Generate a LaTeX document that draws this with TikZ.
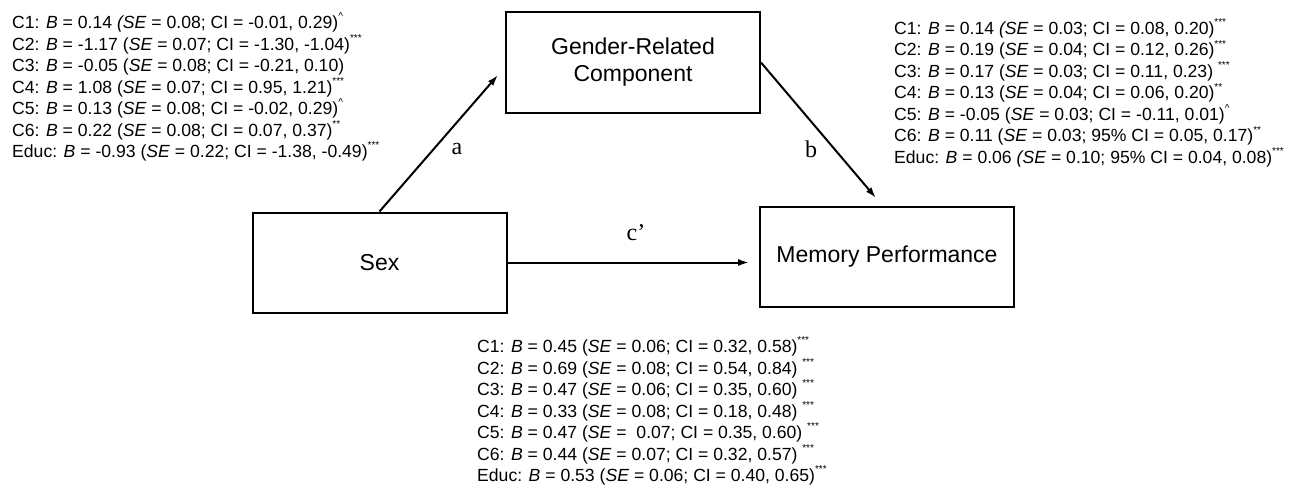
\documentclass[tikz,border=0pt]{standalone}
\usepackage{fontspec}
\setmainfont{Liberation Sans}
\newfontfamily\pathfont{Liberation Serif}
\usetikzlibrary{arrows.meta}

% coefficient notation
\newcommand{\coef}{\textit{B}}
\newcommand{\stderr}{\textit{SE}}
\newcommand{\sig}[1]{\raisebox{0.5em}{\fontsize{10}{10}\selectfont #1}}
\newcommand{\trend}{\sig{\textasciicircum}}

\tikzset{
  box/.style={draw, line width=2pt, minimum width=254, minimum height=100, inner sep=0pt,
    align=center, font=\fontsize{23}{27}\selectfont},
  arr/.style={line width=2pt, -{Latex[length=11pt, width=7pt]}},
  stat/.style={anchor=base west, inner sep=0pt, font=\fontsize{17.6}{21.5}\selectfont},
  pathlbl/.style={inner sep=0pt, font=\pathfont\fontsize{24}{24}\selectfont}
}

\begin{document}
\begin{tikzpicture}[x=1pt, y=-1pt]
\useasboundingbox (0,0) rectangle (1292,487);

% Boxes
\node[box] (gender) at (633,62.5) {Gender-Related\\Component};
\node[box] (sex) at (379.5,262.5) {Sex};
\node[box] (memory) at (887,257) {Memory Performance};

% Arrow ends
\coordinate (aend) at (498,75);
\coordinate (bend) at (876,198);
\coordinate (cend) at (749,262.5);

% Paths
\draw[arr] (sex.north) -- (aend);
\draw[arr] (gender.east) -- (bend);
\draw[arr] (sex.east) -- (cend);
\node[pathlbl] (alabel) at (457,149) {a};
\node[pathlbl] (blabel) at (811,149) {b};
\node[pathlbl] (clabel) at (636,233) {c’};

% Path a estimates
\foreach \txt [count=\i] in {
  {C1: \coef{} = 0.14 \textit{(SE} = 0.08; CI = -0.01, 0.29)\trend},
  {C2: \coef{} = -1.17 (\stderr{} = 0.07; CI = -1.30, -1.04)\sig{***}},
  {C3: \coef{} = -0.05 (\stderr{} = 0.08; CI = -0.21, 0.10)},
  {C4: \coef{} = 1.08 (\stderr{} = 0.07; CI = 0.95, 1.21)\sig{***}},
  {C5: \coef{} = 0.13 (\stderr{} = 0.08; CI = -0.02, 0.29)\trend},
  {C6: \coef{} = 0.22 (\stderr{} = 0.08; CI = 0.07, 0.37)\sig{**}},
  {Educ: \coef{} = -0.93 (\stderr{} = 0.22; CI = -1.38, -0.49)\sig{***}}}
  \node[stat] (lft\i) at (12,7.2+21.5*\i) {\txt};

% Path b estimates
\foreach \txt [count=\i] in {
  {C1: \coef{} = 0.14 \textit{(SE} = 0.03; CI = 0.08, 0.20)\sig{***}},
  {C2: \coef{} = 0.19 (\stderr{} = 0.04; CI = 0.12, 0.26)\sig{***}},
  {C3: \coef{} = 0.17 (\stderr{} = 0.03; CI = 0.11, 0.23) \sig{***}},
  {C4: \coef{} = 0.13 (\stderr{} = 0.04; CI = 0.06, 0.20)\sig{**}},
  {C5: \coef{} = -0.05 (\stderr{} = 0.03; CI = -0.11, 0.01)\trend},
  {C6: \coef{} = 0.11 (\stderr{} = 0.03; 95\% CI = 0.05, 0.17)\sig{**}},
  {Educ: \coef{} = 0.06 \textit{(SE} = 0.10; 95\% CI = 0.04, 0.08)\sig{***}}}
  \node[stat] (rgt\i) at (894,12.9+21.5*\i) {\txt};

% Path c' estimates
\foreach \txt [count=\i] in {
  {C1: \coef{} = 0.45 (\stderr{} = 0.06; CI = 0.32, 0.58)\sig{***}},
  {C2: \coef{} = 0.69 (\stderr{} = 0.08; CI = 0.54, 0.84) \sig{***}},
  {C3: \coef{} = 0.47 (\stderr{} = 0.06; CI = 0.35, 0.60) \sig{***}},
  {C4: \coef{} = 0.33 (\stderr{} = 0.08; CI = 0.18, 0.48) \sig{***}},
  {C5: \coef{} = 0.47 (\stderr{} = \ 0.07; CI = 0.35, 0.60) \sig{***}},
  {C6: \coef{} = 0.44 (\stderr{} = 0.07; CI = 0.32, 0.57) \sig{***}},
  {Educ: \coef{} = 0.53 (\stderr{} = 0.06; CI = 0.40, 0.65)\sig{***}}}
  \node[stat] (btm\i) at (477,331+21.5*\i) {\txt};
\end{tikzpicture}
\end{document}
